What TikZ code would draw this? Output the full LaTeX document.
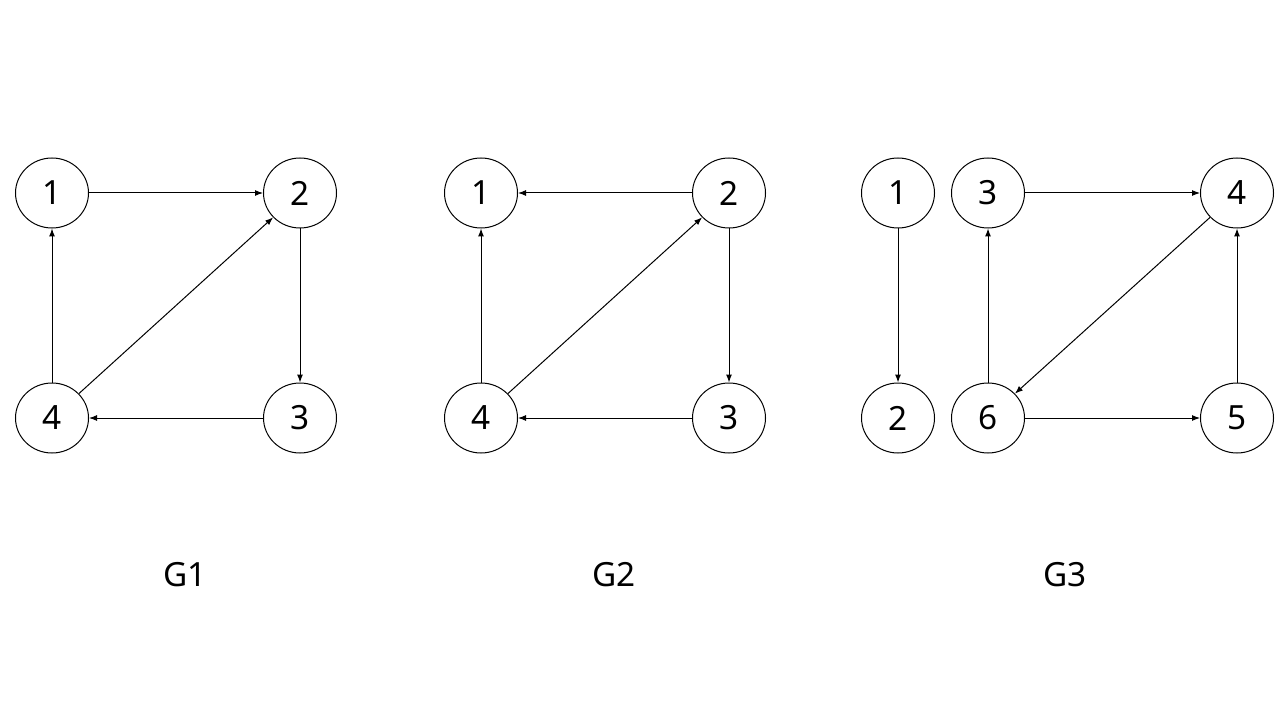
\documentclass[tikz,border=0pt]{standalone}
\usepackage        {fontspec}
\usepackage		 {tikz	  }
\usetikzlibrary	 {arrows.meta,shapes.geometric}
\setmainfont{Noto Sans}

\begin{document}
\begin{tikzpicture}
  [x=0.75pt,y=-0.75pt,line width=0.75pt,-{Latex[length=6pt,width=4.5pt]},
   vertex/.style={ellipse,draw,minimum width=54.75pt,minimum height=52.5pt,inner sep=0pt,font=\fontsize{25}{25}\selectfont},
   title/.style={font=\fontsize{25}{25}\selectfont}]
  \useasboundingbox (0,0) rectangle (1280,720);
  \node[vertex] (a1) at (52,193)  {1};
  \node[vertex] (a2) at (300,193) {2};
  \node[vertex] (a3) at (300,418) {3};
  \node[vertex] (a4) at (52,418)  {4};
  \node[vertex] (b1) at (481,193) {1};
  \node[vertex] (b2) at (729,193) {2};
  \node[vertex] (b3) at (729,418) {3};
  \node[vertex] (b4) at (481,418) {4};
  \node[vertex] (c1) at (898,193)  {1};
  \node[vertex] (c2) at (898,418)  {2};
  \node[vertex] (c3) at (988,193)  {3};
  \node[vertex] (c4) at (1237,193) {4};
  \node[vertex] (c5) at (1237,418) {5};
  \node[vertex] (c6) at (988,418)  {6};
  \node[title] (g1) at (185,575)  {G1};
  \node[title] (g2) at (614,575)  {G2};
  \node[title] (g3) at (1065,575) {G3};

    \draw (a1) -- (a2);
    \draw (a2) -- (a3);
    \draw (a3) -- (a4);
    \draw (a4) -- (a1);
    \draw (a4) -- (a2);

     \draw (b2) -- (b1);
     \draw (b2) -- (b3);
     \draw (b3) -- (b4);
     \draw (b4) -- (b1);
     \draw (b4) -- (b2);

     \draw (c1) -- (c2);
     \draw (c3) -- (c4);
     \draw (c4) -- (c6);
     \draw (c6) -- (c3);
     \draw (c6) -- (c5);
     \draw (c5) -- (c4);

\end{tikzpicture}
\end{document}
